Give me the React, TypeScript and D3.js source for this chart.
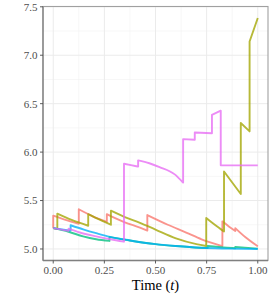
import React from "react";
import * as d3 from "d3";

type P = [number, number];

// Series, each a list of segments (jumps join consecutive segments)
const seriesNames = ["a", "b", "c", "d", "e"];
const seriesColors = ["#F8766D", "#A3A500", "#00BF7D", "#00B0F6", "#E76BF3"];

const salmonSegs: P[][] = [
  [[0, 5.215]],
  [[0, 5.344], [0.06, 5.3], [0.125, 5.26]],
  [[0.125, 5.41], [0.19, 5.34], [0.262, 5.28]],
  [[0.262, 5.36], [0.3, 5.32], [0.35, 5.275], [0.424, 5.22], [0.46, 5.19]],
  [[0.46, 5.35], [0.56, 5.25], [0.65, 5.17], [0.725, 5.1], [0.827, 5.03]],
  [[0.827, 5.285], [0.86, 5.23], [0.89, 5.185]],
  [[0.89, 5.215], [0.94, 5.12], [1.0, 5.027]],
];

const oliveSegs: P[][] = [
  [[0, 5.215], [0.02, 5.205]],
  [[0.02, 5.365], [0.09, 5.3], [0.171, 5.24]],
  [[0.171, 5.36], [0.23, 5.3], [0.282, 5.25]],
  [[0.282, 5.395], [0.35, 5.33], [0.424, 5.27], [0.5, 5.2], [0.6, 5.11], [0.7, 5.05], [0.748, 5.03]],
  [[0.748, 5.32], [0.79, 5.25], [0.835, 5.18]],
  [[0.835, 5.8], [0.917, 5.568]],
  [[0.917, 6.3], [0.96, 6.214]],
  [[0.96, 7.142], [1.0, 7.384]],
];

const greenSegs: P[][] = [
  [[0, 5.215], [0.075, 5.178], [0.146, 5.13], [0.21, 5.1], [0.275, 5.083]],
  [[0.275, 5.125], [0.375, 5.088], [0.5, 5.05], [0.6, 5.03], [0.716, 5.013], [0.755, 5.01]],
  [[0.755, 5.03], [0.85, 5.013], [0.89, 5.008]],
  [[0.89, 5.02], [1.0, 5.004]],
];

const blueSegs: P[][] = [
  [[0, 5.215], [0.085, 5.19]],
  [[0.085, 5.245], [0.15, 5.2], [0.21, 5.163], [0.277, 5.125], [0.375, 5.088], [0.5, 5.05], [0.6, 5.03], [0.716, 5.012], [0.85, 5.004], [1.0, 5.0]],
];

const pinkSegs: P[][] = [
  [[0, 5.215], [0.075, 5.187]],
  [[0.075, 5.21], [0.13, 5.17], [0.21, 5.13], [0.28, 5.1], [0.346, 5.075]],
  [[0.346, 5.88], [0.38, 5.865], [0.415, 5.85]],
  [[0.415, 5.915], [0.47, 5.885], [0.52, 5.845], [0.594, 5.77], [0.635, 5.685]],
  [[0.635, 6.134], [0.692, 6.128]],
  [[0.692, 6.203], [0.776, 6.195]],
  [[0.776, 6.385], [0.819, 6.427]],
  [[0.819, 5.863], [1.0, 5.863]],
];

const allSeries = [salmonSegs, oliveSegs, greenSegs, blueSegs, pinkSegs];

const xTicks = [0, 0.25, 0.5, 0.75, 1.0];
const xTickLabels = ["0.00", "0.25", "0.50", "0.75", "1.00"];
const xMinor = [0.125, 0.375, 0.625, 0.875];
const yTicks = [5.0, 5.5, 6.0, 6.5, 7.0, 7.5];
const yTickLabels = ["5.0", "5.5", "6.0", "6.5", "7.0", "7.5"];
const yMinor = [5.25, 5.75, 6.25, 6.75, 7.25];

const W = 275;
const H = 300;
const L = 43;
const R = 268;
const T = 6.5;
const B = 260.5;

export default function App() {
  const x = d3.scaleLinear().domain([-0.05, 1.05]).range([L, R]);
  const y = d3.scaleLinear().domain([4.881, 7.503]).range([B, T]);
  const lineGen = d3
    .line<P>()
    .x((d) => x(d[0]))
    .y((d) => y(d[1]))
    .curve(d3.curveMonotoneX);

  const seriesPath = (segs: P[][]) => {
    let d = "";
    segs.forEach((seg, i) => {
      let s =
        seg.length > 1
          ? (lineGen(seg) as string)
          : `M${x(seg[0][0])},${y(seg[0][1])}`;
      if (i > 0) s = "L" + s.slice(1);
      d += s;
    });
    return d;
  };

  const font = "'Liberation Serif', 'DejaVu Serif', serif";

  return (
    <svg
      width={W}
      height={H}
      style={{ position: "absolute", left: 0, top: 0, background: "#fff" }}
    >
      <rect x={0} y={0} width={W} height={H} fill="#fff" />
      {/* minor grid */}
      {xMinor.map((t) => (
        <line key={"xm" + t} x1={x(t)} x2={x(t)} y1={T} y2={B} stroke="#F2F2F2" strokeWidth={0.6} />
      ))}
      {yMinor.map((v) => (
        <line key={"ym" + v} x1={L} x2={R} y1={y(v)} y2={y(v)} stroke="#F2F2F2" strokeWidth={0.6} />
      ))}
      {/* major grid */}
      {xTicks.map((t) => (
        <line key={"xg" + t} x1={x(t)} x2={x(t)} y1={T} y2={B} stroke="#EBEBEB" strokeWidth={1} />
      ))}
      {yTicks.map((v) => (
        <line key={"yg" + v} x1={L} x2={R} y1={y(v)} y2={y(v)} stroke="#EBEBEB" strokeWidth={1} />
      ))}

      {/* series */}
      {allSeries.map((segs, i) => (
        <path
          key={seriesNames[i]}
          d={seriesPath(segs)}
          fill="none"
          stroke={seriesColors[i]}
          strokeOpacity={0.78}
          strokeWidth={1.9}
          strokeLinejoin="round"
        />
      ))}

      {/* panel border */}
      <rect x={L} y={T} width={R - L} height={B - T} fill="none" stroke="#A0A0A0" strokeWidth={1.1} />
      {/* axis lines */}
      <line x1={L} x2={L} y1={T} y2={B} stroke="#808080" strokeWidth={1.3} />
      <line x1={L} x2={R} y1={B} y2={B} stroke="#808080" strokeWidth={1.3} />

      {/* y ticks */}
      {yTicks.map((v, i) => (
        <g key={"yt" + v}>
          <line x1={L - 3} x2={L} y1={y(v)} y2={y(v)} stroke="#4D4D4D" strokeWidth={0.9} />
          <text
            x={L - 5.5}
            y={y(v)}
            dy="0.35em"
            textAnchor="end"
            fontFamily={font}
            fontSize={11}
            fill="#4D4D4D"
          >
            {yTickLabels[i]}
          </text>
        </g>
      ))}
      {/* x ticks */}
      {xTicks.map((t, i) => (
        <g key={"xt" + t}>
          <line x1={x(t)} x2={x(t)} y1={B} y2={B + 3} stroke="#4D4D4D" strokeWidth={0.9} />
          <text
            x={x(t)}
            y={274}
            textAnchor="middle"
            fontFamily={font}
            fontSize={11}
            fill="#4D4D4D"
          >
            {xTickLabels[i]}
          </text>
        </g>
      ))}

      {/* x title */}
      <text
        x={(L + R) / 2}
        y={290}
        textAnchor="middle"
        fontFamily={font}
        fontSize={14.5}
        fill="#000"
      >
        Time (<tspan fontStyle="italic">t</tspan>)
      </text>
    </svg>
  );
}
